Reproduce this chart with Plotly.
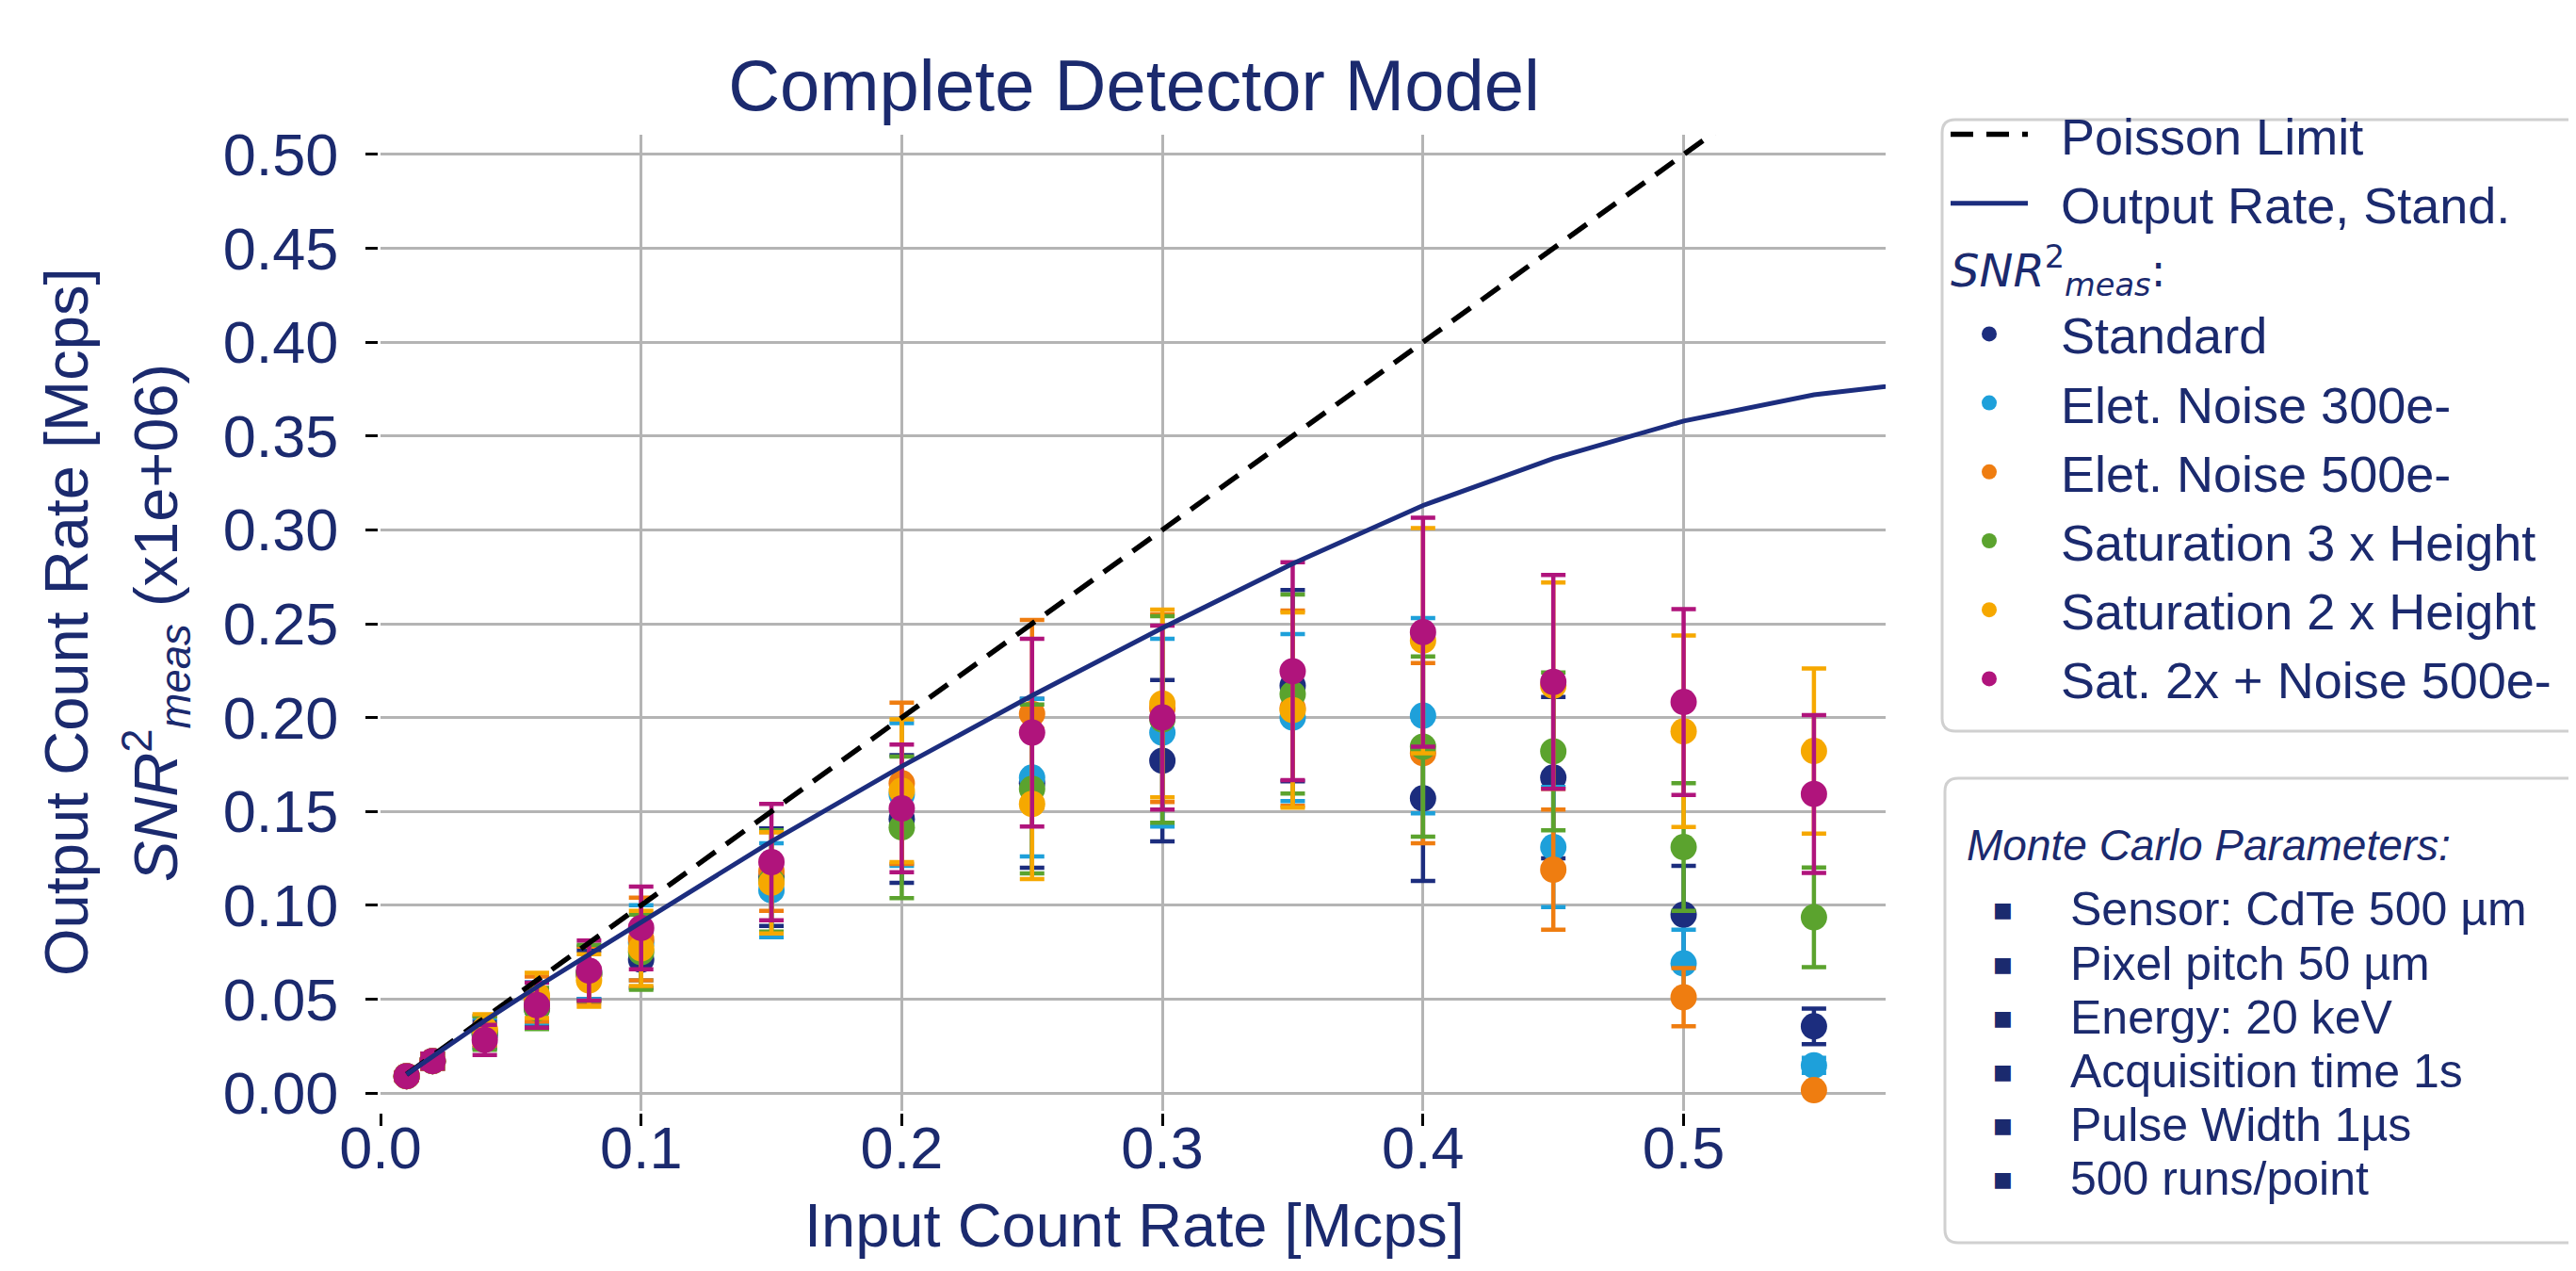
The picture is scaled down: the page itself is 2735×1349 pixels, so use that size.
import plotly.graph_objects as go

# ---------------- data ----------------
x_in = [0.01, 0.02, 0.04, 0.06, 0.08, 0.10, 0.15, 0.20, 0.25, 0.30, 0.35, 0.40, 0.45, 0.50, 0.55]

std_y   = [0.009, 0.017, 0.031, 0.045, 0.063, 0.071, 0.115, 0.146, 0.165, 0.177, 0.217, 0.157, 0.168, 0.095, 0.0355]
std_e   = [0.002, 0.004, 0.007, 0.010, 0.013, 0.015, 0.026, 0.034, 0.045, 0.043, 0.051, 0.044, 0.043, 0.026, 0.0095]

n300_y  = [0.009, 0.017, 0.032, 0.048, 0.064, 0.080, 0.108, 0.159, 0.168, 0.192, 0.200, 0.201, 0.131, 0.069, 0.0147]
n300_e  = [0.002, 0.004, 0.008, 0.011, 0.014, 0.020, 0.025, 0.038, 0.042, 0.050, 0.0445, 0.052, 0.032, 0.018, 0.004]

n500_y  = [0.009, 0.017, 0.033, 0.050, 0.063, 0.082, 0.118, 0.165, 0.202, 0.205, 0.205, 0.181, 0.119, 0.051, 0.0015]
n500_e  = [0.002, 0.004, 0.008, 0.012, 0.015, 0.022, 0.021, 0.043, 0.050, 0.050, 0.052, 0.048, 0.032, 0.0155, 0.0005]

sat3_y  = [0.009, 0.017, 0.032, 0.045, 0.064, 0.075, 0.113, 0.1415, 0.162, 0.199, 0.2125, 0.1845, 0.182, 0.131, 0.0936]
sat3_e  = [0.002, 0.004, 0.009, 0.011, 0.015, 0.020, 0.027, 0.0377, 0.045, 0.055, 0.053, 0.048, 0.042, 0.034, 0.0265]

sat2_y  = [0.009, 0.017, 0.034, 0.052, 0.060, 0.077, 0.112, 0.161, 0.154, 0.2075, 0.204, 0.241, 0.217, 0.1927, 0.1822]
sat2_e  = [0.002, 0.004, 0.008, 0.012, 0.014, 0.020, 0.027, 0.038, 0.040, 0.050, 0.052, 0.060, 0.055, 0.051, 0.044]

satn_y  = [0.009, 0.017, 0.0283, 0.0468, 0.0652, 0.0879, 0.123, 0.1516, 0.192, 0.200, 0.2247, 0.2455, 0.219, 0.2083, 0.1593]
satn_e  = [0.002, 0.004, 0.008, 0.012, 0.016, 0.022, 0.031, 0.034, 0.050, 0.049, 0.058, 0.061, 0.057, 0.0495, 0.042]

model_x   = [0.01, 0.02, 0.04, 0.06, 0.08, 0.10, 0.15, 0.20, 0.25, 0.30, 0.35, 0.40, 0.45, 0.50, 0.55, 0.60]
poisson_y = [0.01, 0.02, 0.04, 0.06, 0.08, 0.10, 0.15, 0.20, 0.25, 0.30, 0.35, 0.40, 0.45, 0.50, 0.55, 0.60]
output_y  = [0.0099, 0.0196, 0.0385, 0.0565, 0.074, 0.091, 0.134, 0.174, 0.2117, 0.2477, 0.282, 0.313, 0.338, 0.358, 0.372, 0.380]

series_names = ["Standard", "Elet. Noise 300e-", "Elet. Noise 500e-",
                "Saturation 3 x Height", "Saturation 2 x Height", "Sat. 2x + Noise 500e-"]
series_colors = ["#1c2d7e", "#1ea0da", "#ef7d10", "#5ba32e", "#f6a800", "#b0147c"]
series_y = [std_y, n300_y, n500_y, sat3_y, sat2_y, satn_y]
series_e = [std_e, n300_e, n500_e, sat3_e, sat2_e, satn_e]

params = ["Sensor: CdTe 500 µm", "Pixel pitch 50 µm", "Energy: 20 keV",
          "Acquisition time 1s", "Pulse Width 1µs", "500 runs/point"]

# ---------------- styling ----------------
FONT = "Arial, 'Liberation Sans', sans-serif"
NAVY = "#1b2a6e"
W, H = 2735, 1349
L, R_EDGE, T, B_EDGE = 396, 1994, 135, 1171
PW, PH = R_EDGE - L, B_EDGE - T
GAP = "\u00a0\u00a0"


def px_x(px):
    return (px - L) / PW


def px_y(py):
    return (B_EDGE - py) / PH


def rrect(x0, y0, x1, y1, r):
    def P(a, b):
        return f"{px_x(a):.5f},{px_y(b):.5f}"
    return (f"M {P(x0 + r, y0)} L {P(x1 - r, y0)} Q {P(x1, y0)} {P(x1, y0 + r)} "
            f"L {P(x1, y1 - r)} Q {P(x1, y1)} {P(x1 - r, y1)} L {P(x0 + r, y1)} "
            f"Q {P(x0, y1)} {P(x0, y1 - r)} L {P(x0, y0 + r)} Q {P(x0, y0)} {P(x0 + r, y0)} Z")


fig = go.Figure()

fig.add_trace(go.Scatter(
    x=model_x, y=poisson_y, mode="lines", name=GAP + "Poisson Limit",
    line=dict(color="black", width=5.5, dash="24px,14px"),
    legendgroup="model", zorder=10))
fig.add_trace(go.Scatter(
    x=model_x, y=output_y, mode="lines", name=GAP + "Output Rate, Stand.",
    line=dict(color="#1c2d7e", width=5),
    legendgroup="model", zorder=10))

for i, (nm, col, yy, ee) in enumerate(zip(series_names, series_colors, series_y, series_e)):
    fig.add_trace(go.Scatter(
        x=x_in, y=yy, mode="markers", name=GAP + nm,
        marker=dict(color=col, size=28, line=dict(width=0)),
        error_y=dict(type="data", array=ee, visible=True, color=col, thickness=4.5, width=13),
        legendgroup="snr",
        legendgrouptitle=dict(text="<i>SNR</i><sup>2</sup><sub><i>meas</i></sub>:",
                              font=dict(size=48, color=NAVY, family="'DejaVu Sans', sans-serif")) if i == 0 else None,
    ))

axis_common = dict(
    showgrid=True, gridcolor="#b4b4b4", gridwidth=2.5, zeroline=False,
    showline=True, linecolor="black", linewidth=3, mirror=True,
    ticks="outside", ticklen=13, tickwidth=3, tickcolor="black",
    tickfont=dict(family=FONT, size=63, color=NAVY),
)

fig.update_layout(
    width=W, height=H,
    paper_bgcolor="white", plot_bgcolor="white",
    margin=dict(l=L, r=W - R_EDGE, t=T, b=H - B_EDGE, autoexpand=False),
    font=dict(family=FONT, color=NAVY),
    title=dict(text="Complete Detector Model", x=px_x(1196), xref="paper", xanchor="center",
               y=1 - 82 / H, yref="container", yanchor="middle",
               font=dict(family=FONT, size=76, color=NAVY)),
    xaxis=dict(range=[0, 0.5775], dtick=0.1, tick0=0, tickformat=".1f", ticklabelstandoff=-31,
               **axis_common),
    yaxis=dict(range=[-0.0095, 0.5105], dtick=0.05, tick0=0, tickformat=".2f", ticklabelstandoff=16,
               **axis_common),
    legend=dict(x=px_x(2058), y=px_y(93), xanchor="left", yanchor="top",
                xref="paper", yref="paper",
                bgcolor="rgba(0,0,0,0)", borderwidth=0,
                font=dict(family=FONT, size=54, color=NAVY),
                itemwidth=82, tracegroupgap=0, traceorder="grouped"),
    showlegend=True,
)

# legend frame and parameter box frame (rounded)
fig.add_shape(type="path", xref="paper", yref="paper", layer="below",
              path=rrect(2054, 119, 2800, 768, 14),
              line=dict(color="#d0d0d0", width=3), fillcolor="white")
fig.add_shape(type="path", xref="paper", yref="paper", layer="below",
              path=rrect(2057, 818, 2800, 1311, 14),
              line=dict(color="#d0d0d0", width=3), fillcolor="white")

# x-axis title
fig.add_annotation(text="Input Count Rate [Mcps]", xref="paper", yref="paper",
                   x=px_x(1196), y=px_y(1292), xanchor="center", yanchor="middle",
                   showarrow=False, font=dict(family=FONT, size=65, color=NAVY))

# y-axis titles (two lines)
fig.add_annotation(text="Output Count Rate [Mcps]", xref="paper", yref="paper",
                   x=px_x(62), y=0.5, xanchor="center", yanchor="middle", textangle=-90,
                   showarrow=False, font=dict(family=FONT, size=65, color=NAVY))
fig.add_annotation(text="<i>SNR</i><sup>2</sup><sub><i>meas</i></sub> (x1e+06)", xref="paper", yref="paper",
                   x=px_x(158), y=0.5, xanchor="center", yanchor="middle", textangle=-90,
                   showarrow=False, font=dict(family=FONT, size=65, color=NAVY))

# Monte Carlo parameters box
fig.add_annotation(text="<i>Monte Carlo Parameters:</i>", xref="paper", yref="paper",
                   x=px_x(2078), y=px_y(889), xanchor="left", yanchor="middle",
                   showarrow=False, font=dict(family=FONT, size=46, color=NAVY))
item_y = [957, 1015, 1072, 1129, 1186, 1243]
for txt, yy in zip(params, item_y):
    fig.add_annotation(text="■", xref="paper", yref="paper",
                       x=px_x(2118), y=px_y(yy), xanchor="center", yanchor="middle",
                       showarrow=False, font=dict(family="'DejaVu Sans', sans-serif", size=22, color=NAVY))
    fig.add_annotation(text=txt, xref="paper", yref="paper",
                       x=px_x(2188), y=px_y(yy), xanchor="left", yanchor="middle",
                       showarrow=False, font=dict(family=FONT, size=50, color=NAVY))

fig.write_html("out.html")
